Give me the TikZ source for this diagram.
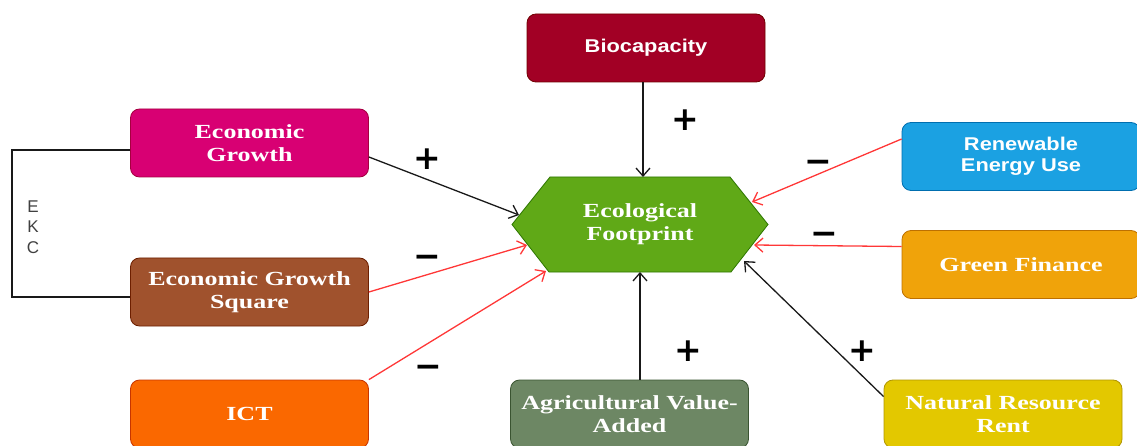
\documentclass[tikz,border=0pt]{standalone}
\usepackage{fontspec}
\usetikzlibrary{arrows.meta}

\newfontfamily\boxserif{Liberation Serif}[FakeStretch=1.3]
\newfontfamily\boxsans{Liberation Sans}[FakeStretch=1.18]
\newfontfamily\signfont{DejaVu Sans}
\newfontfamily\ekcfont{Liberation Sans}

% box fills and their darker outlines
\definecolor{crimsonF}{HTML}{A20025}\definecolor{crimsonD}{HTML}{6F0000}
\definecolor{magentaF}{HTML}{D80073}\definecolor{magentaD}{HTML}{A50040}
\definecolor{brownF}{HTML}{A0522D}\definecolor{brownD}{HTML}{6D1F00}
\definecolor{orangeF}{HTML}{FA6800}\definecolor{orangeD}{HTML}{C73500}
\definecolor{oliveF}{HTML}{6D8764}\definecolor{oliveD}{HTML}{3A5431}
\definecolor{yellowF}{HTML}{E3C800}\definecolor{yellowD}{HTML}{B09500}
\definecolor{cyanF}{HTML}{1BA1E2}\definecolor{cyanD}{HTML}{006EAF}
\definecolor{amberF}{HTML}{F0A30A}\definecolor{amberD}{HTML}{BD7000}
\definecolor{greenF}{HTML}{60A917}\definecolor{greenD}{HTML}{2D7600}
\definecolor{posline}{RGB}{25,25,25}
\definecolor{negline}{RGB}{255,55,55}

\begin{document}
\begin{tikzpicture}[x=1pt,y=-1pt,
  box/.style={rounded corners=9pt, minimum width=238pt, minimum height=68pt,
    inner sep=0pt, align=center, text=white, line width=0.8pt},
  serifbox/.style={box, font=\boxserif\bfseries\fontsize{20}{23}\selectfont},
  sansbox/.style={box, font=\boxsans\bfseries\fontsize{18.5}{20.5}\selectfont},
  link/.style={line width=1.3pt, -{Straight Barb[length=8pt,width=14pt,line width=1.3pt]}},
  poslink/.style={link, draw=posline},
  neglink/.style={link, draw=negline},
  sign/.style={font=\signfont\bfseries\fontsize{33}{33}\selectfont, inner sep=0pt,
    text height=0.66em, text depth=0pt, text=black},
]
\useasboundingbox (0,0) rectangle (1137,446);
\clip (0,0) rectangle (1137,446);

% factor boxes
\node[sansbox,  fill=crimsonF, draw=crimsonD] (bio)  at (646,48)    {Biocapacity};
\node[serifbox, fill=magentaF, draw=magentaD] (eg)   at (249.5,143) {Economic\\Growth};
\node[serifbox, fill=brownF,   draw=brownD]   (egs)  at (249.5,292) {Economic Growth\\Square};
\node[serifbox, fill=orangeF,  draw=orangeD]  (ict)  at (249.5,414) {ICT};
\node[serifbox, fill=oliveF,   draw=oliveD]   (agri) at (629.5,414) {Agricultural Value-\\Added};
\node[serifbox, fill=yellowF,  draw=yellowD]  (nrr)  at (1003,414)  {Natural Resource\\Rent};
\node[sansbox,  fill=cyanF,    draw=cyanD]    (reu)  at (1021,156.5){Renewable\\Energy Use};
\node[serifbox, fill=amberF,   draw=amberD]   (gf)   at (1021,264.5){Green Finance};

% central hexagon
\coordinate (hW)  at (512,224.5);
\coordinate (hNW) at (550,177);
\coordinate (hNE) at (730,177);
\coordinate (hE)  at (768,224.5);
\coordinate (hSE) at (731,272);
\coordinate (hSW) at (549,272);
\draw[fill=greenF, draw=greenD, line width=0.8pt]
  (hW) -- (hNW) -- (hNE) -- (hE) -- (hSE) -- (hSW) -- cycle;
\node[font=\boxserif\bfseries\fontsize{20}{23}\selectfont, text=white, align=center]
  (eco) at (640,224.5) {Ecological\\Footprint};

% arrow tips on the hexagon outline
\coordinate (tBio)  at (643,177);
\coordinate (tEG)   at (519,215);
\coordinate (tEGS)  at (527,245);
\coordinate (tICT)  at (546,271);
\coordinate (tAgri) at (640,272);
\coordinate (tNRR)  at (744,261);
\coordinate (tREU)  at (752,202);
\coordinate (tGF)   at (754,245);

% connectors
\draw[poslink] (bio.south -| tBio) -- (tBio);
\draw[poslink] ([yshift=-14pt]eg.east) -- (tEG);
\draw[neglink] (egs.east) -- (tEGS);
\draw[neglink] (ict.north east) -- (tICT);
\draw[poslink] (agri.north -| tAgri) -- (tAgri);
\draw[poslink] ([yshift=-17pt]nrr.north west) -- (tNRR);
\draw[neglink] ([yshift=17.5pt]reu.west) -- (tREU);
\draw[neglink] ([yshift=18pt]gf.west) -- (tGF);

% signs of the effects
\node[sign] (sBio)  at (685,127) {+};
\node[sign] (sEG)   at (427,166) {+};
\node[sign] (sEGS)  at (427,264) {−};
\node[sign] (sICT)  at (428,374) {−};
\node[sign] (sAgri) at (688,358) {+};
\node[sign] (sNRR)  at (862,358) {+};
\node[sign] (sREU)  at (818,169) {−};
\node[sign] (sGF)   at (824,241) {−};

% EKC bracket joining the growth terms
\coordinate (kTop) at (12,150);
\coordinate (kBot) at (12,297);
\draw[line width=1.1pt, draw=posline] (kTop -| eg.west) -- (kTop) -- (kBot) -- (kBot -| egs.west);
\node[font=\ekcfont\fontsize{17}{20.5}\selectfont, text=black!75, align=center]
  (ekc) at (33,227) {E\\K\\C};
\end{tikzpicture}
\end{document}
